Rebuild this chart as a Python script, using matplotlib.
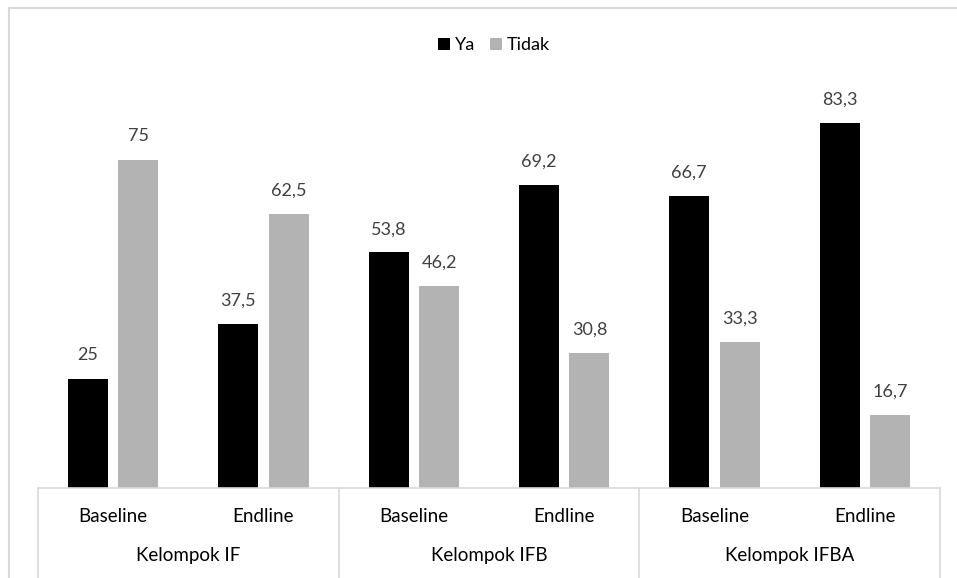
import matplotlib.pyplot as plt
import matplotlib.transforms as mtransforms
from matplotlib.lines import Line2D
from matplotlib.patches import Rectangle
import numpy as np

# Data
periods = ["Baseline", "Endline", "Baseline", "Endline", "Baseline", "Endline"]
groups = ["Kelompok IF", "Kelompok IFB", "Kelompok IFBA"]
ya = [25, 37.5, 53.8, 69.2, 66.7, 83.3]
tidak = [75, 62.5, 46.2, 30.8, 33.3, 16.7]

W, H = 957, 578
plt.rcParams["font.family"] = ["Lato", "DejaVu Sans"]
fig = plt.figure(figsize=(W / 100, H / 100), dpi=100)

# Plot area in pixel terms
left, right, base, top = 38, 940, 488, 94
ax = fig.add_axes([left / W, (H - base) / H, (right - left) / W, (base - top) / H])

x = np.arange(len(periods))
width = 0.266
off = 0.168
b1 = ax.bar(x - off, ya, width, color="#000000", label="Ya")
b2 = ax.bar(x + off, tidak, width, color="#b3b3b3", label="Tidak")


def fmt(v):
    s = f"{v:g}"
    return s.replace(".", ",")


for bars, vals in ((b1, ya), (b2, tidak)):
    for rect, v in zip(bars, vals):
        ax.annotate(
            fmt(v),
            (rect.get_x() + rect.get_width() / 2, rect.get_height()),
            xytext=(0, 11),
            textcoords="offset points",
            ha="center",
            va="bottom",
            fontsize=13,
            color="#404040",
        )

ax.set_xlim(-0.5, len(periods) - 0.5)
ax.set_ylim(0, 90)
ax.axis("off")

# Multi-level category axis
tr = mtransforms.blended_transform_factory(ax.transData, fig.transFigure)
line_color = "#d9d9d9"
ax.add_line(Line2D([-0.5, 5.5], [(H - base) / H] * 2, transform=tr,
                   color=line_color, lw=1.2, clip_on=False))
for sx in (-0.5, 1.5, 3.5, 5.5):
    ax.add_line(Line2D([sx, sx], [(H - base) / H, 0], transform=tr,
                       color=line_color, lw=1.2, clip_on=False))
for xi, p in zip(x, periods):
    ax.text(xi, (H - 516) / H, p, transform=tr, ha="center", va="center",
            fontsize=13.5, color="#000000")
for gi, g in enumerate(groups):
    ax.text(2 * gi + 0.5, (H - 556) / H, g, transform=tr, ha="center",
            va="center", fontsize=13.5, color="#000000")

# Legend
fig.legend(
    handles=[b1, b2],
    labels=["Ya", "Tidak"],
    loc="center",
    bbox_to_anchor=(494 / W, 1 - 45 / H),
    ncol=2,
    frameon=False,
    fontsize=13,
    handlelength=0.65,
    handleheight=0.65,
    handletextpad=0.3,
    columnspacing=0.8,
)

# Chart border (cropped at right and bottom)
fig.patches.append(Rectangle((9 / W, -0.05), 1.1, 1 - 8 / H + 0.05,
                             transform=fig.transFigure, fill=False,
                             edgecolor="#d9d9d9", lw=1.5))

fig.savefig("out.png", dpi=100)
